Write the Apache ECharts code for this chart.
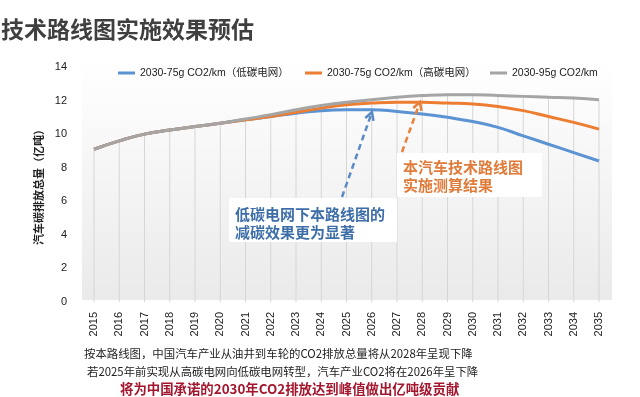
<!DOCTYPE html>
<html>
<head>
<meta charset="utf-8">
<script src="https://cdn.jsdelivr.net/npm/echarts@6/dist/echarts.min.js"></script>
<style>
  html, body { margin: 0; padding: 0; background: #fff; }
  #main { width: 640px; height: 397px; }
</style>
</head>
<body>
<div id="main"></div>
<script>
var years = ['2015','2016','2017','2018','2019','2020','2021','2022','2023','2024','2025',
             '2026','2027','2028','2029','2030','2031','2032','2033','2034','2035'];
// 2030-75g CO2/km (低碳电网)
var lowGrid = [9.1, 9.6, 10.0, 10.25, 10.45, 10.65, 10.85, 11.05, 11.25, 11.4, 11.45,
               11.45, 11.35, 11.2, 11.0, 10.75, 10.4, 9.9, 9.4, 8.9, 8.4];
// 2030-75g CO2/km (高碳电网)
var highGrid = [9.1, 9.6, 10.0, 10.25, 10.45, 10.65, 10.85, 11.05, 11.3, 11.55, 11.75,
                11.85, 11.9, 11.9, 11.85, 11.8, 11.65, 11.4, 11.05, 10.7, 10.3];
// 2030-95g CO2/km
var base95 = [9.1, 9.6, 10.0, 10.25, 10.45, 10.65, 10.9, 11.15, 11.45, 11.7, 11.9,
              12.05, 12.2, 12.3, 12.35, 12.35, 12.3, 12.25, 12.2, 12.15, 12.05];
var yTicks = { min: 0, max: 14, step: 2 };

var names = ['2030-75g CO2/km（低碳电网）', '2030-75g CO2/km（高碳电网）', '2030-95g CO2/km'];
var colors = ['#5b93d3', '#ed7d31', '#a5a5a5'];
var font = '"Liberation Sans", "Noto Sans CJK SC", sans-serif';
var cjk = '"Noto Sans CJK SC", sans-serif';

// dashed arrow annotation (not data)
function arrow(x1, y1, x2, y2, color){
    var ang = Math.atan2(y2 - y1, x2 - x1);
    var len = 9, spread = 0.5;
    var p1 = [x2 - len * Math.cos(ang - spread), y2 - len * Math.sin(ang - spread)];
    var p2 = [x2 - len * Math.cos(ang + spread), y2 - len * Math.sin(ang + spread)];
    return [
        { type: 'line', z: 20, shape: { x1: x1, y1: y1, x2: x2 - 2 * Math.cos(ang), y2: y2 - 2 * Math.sin(ang) },
          style: { stroke: color, lineWidth: 2.5, lineDash: [6, 4] } },
        { type: 'polyline', z: 20, shape: { points: [p1, [x2, y2], p2] },
          style: { stroke: color, lineWidth: 2.5, fill: null } }
    ];
}

function legend(i, left){
    return {
        data: [names[i]], left: left, top: 57, icon: 'rect',
        itemWidth: 17, itemHeight: 3, itemGap: 0,
        textStyle: { fontFamily: font, fontSize: 10.5, color: '#222', lineHeight: 22, verticalAlign: 'top' }
    };
}

var graphics = [
    { type: 'rect', z: -10, shape: { x: 82, y: 62, width: 530, height: 238 },
      style: { fill: new echarts.graphic.LinearGradient(0, 0, 0, 1, [
          { offset: 0, color: '#ffffff' }, { offset: 1, color: '#eaeaea' }]) } },
    { type: 'text', left: 1, top: 18,
      style: { text: '技术路线图实施效果预估', font: 'bold 23px ' + cjk, fill: '#3f3f3f' } },
    { type: 'rect', z: 15, shape: { x: 229, y: 198, width: 168, height: 44 }, style: { fill: '#fff' } },
    { type: 'text', z: 16, left: 235, top: 205,
      style: { text: '低碳电网下本路线图的\n减碳效果更为显著', font: 'bold 15px ' + cjk,
               lineHeight: 18, fill: '#3e6ea8' } },
    { type: 'rect', z: 15, shape: { x: 397, y: 153, width: 145, height: 44 }, style: { fill: '#fff' } },
    { type: 'text', z: 16, left: 403, top: 158,
      style: { text: '本汽车技术路线图\n实施测算结果', font: 'bold 15px ' + cjk,
               lineHeight: 18, fill: '#e07b39' } },
    { type: 'text', left: 84, top: 348,
      style: { text: '按本路线图，中国汽车产业从油井到车轮的CO2排放总量将从2028年呈现下降',
               font: '11.4px ' + cjk, fill: '#222' } },
    { type: 'text', left: 87, top: 366,
      style: { text: '若2025年前实现从高碳电网向低碳电网转型，汽车产业CO2将在2026年呈下降',
               font: '11.4px ' + cjk, fill: '#222' } },
    { type: 'text', left: 120, top: 382,
      style: { text: '将为中国承诺的2030年CO2排放达到峰值做出亿吨级贡献',
               font: 'bold 13.4px ' + cjk, fill: '#a3162d' } }
].concat(arrow(342, 197, 372, 112, '#5b8bc6'))
 .concat(arrow(402, 152, 420, 102, '#e8803a'));

var option = {
    animation: false,
    color: colors,
    grid: { left: 94, right: 41, top: 67, bottom: 95 },
    legend: [legend(0, 113), legend(1, 300), legend(2, 485)],
    graphic: graphics,
    xAxis: {
        type: 'category',
        data: years,
        boundaryGap: false,
        axisLine: { show: false },
        axisTick: { show: false },
        splitLine: { show: false },
        axisLabel: { rotate: 90, margin: 10, fontSize: 11, fontFamily: font, color: '#222' }
    },
    yAxis: {
        type: 'value',
        min: yTicks.min, max: yTicks.max, interval: yTicks.step,
        name: '汽车碳排放总量（亿吨）',
        nameLocation: 'middle', nameGap: 44, nameRotate: 90,
        nameTextStyle: { fontFamily: cjk, fontSize: 11, color: '#222', fontWeight: 'bold' },
        axisLine: { show: false },
        axisTick: { show: false },
        splitLine: { show: false },
        axisLabel: { margin: 27, fontSize: 11, fontFamily: font, color: '#222' }
    },
    series: [
        // drop lines from top series to axis
        { type: 'bar', data: base95, barWidth: 1, silent: true, z: 1,
          itemStyle: { color: '#d6d6d6' } },
        { name: names[0], type: 'line', data: lowGrid, smooth: true, showSymbol: false, z: 3,
          lineStyle: { width: 3, color: colors[0] } },
        { name: names[1], type: 'line', data: highGrid, smooth: true, showSymbol: false, z: 4,
          lineStyle: { width: 3, color: colors[1] } },
        { name: names[2], type: 'line', data: base95, smooth: true, showSymbol: false, z: 5,
          lineStyle: { width: 3, color: colors[2] } }
    ]
};

var myChart = echarts.init(document.getElementById('main'));
myChart.setOption(option);
</script>
</body>
</html>
